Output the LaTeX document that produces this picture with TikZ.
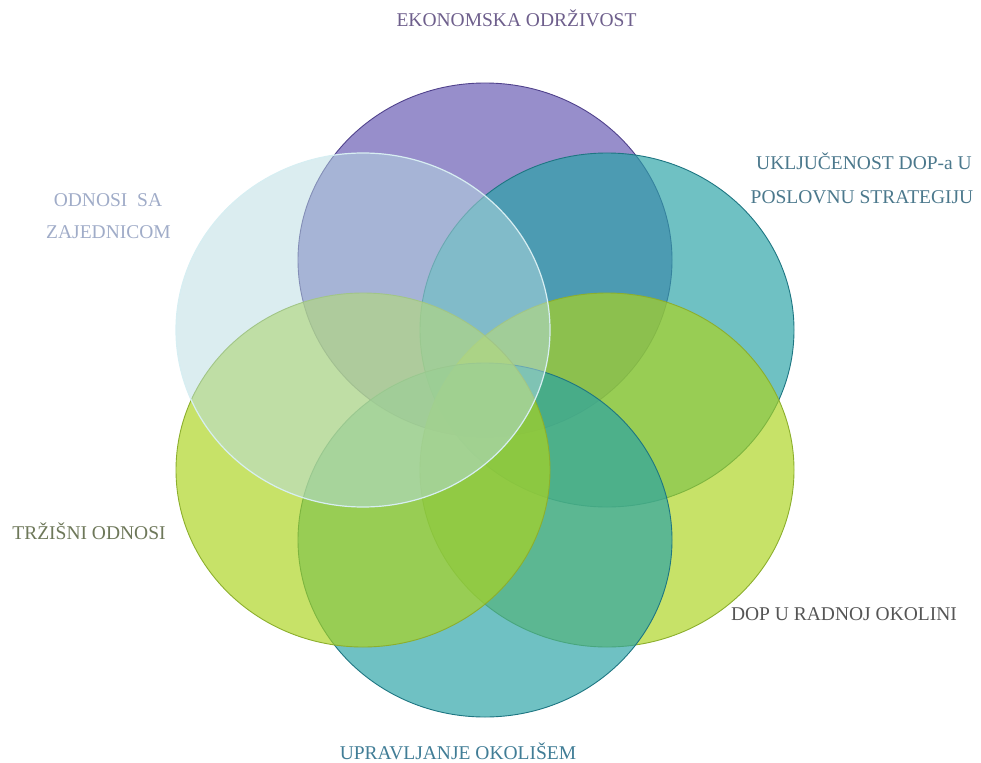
\documentclass[tikz,border=0pt]{standalone}
\usepackage{fontspec}
\setmainfont{Liberation Serif}
\definecolor{cpurple}{RGB}{100,86,178}
\definecolor{cpurpleD}{RGB}{80,66,140}
\definecolor{cteal}{RGB}{40,162,166}
\definecolor{ctealD}{RGB}{30,118,130}
\definecolor{cyg}{RGB}{172,212,30}
\definecolor{cygD}{RGB}{140,175,45}
\definecolor{clight}{RGB}{183,219,225}
\definecolor{clightD}{RGB}{215,238,242}
\definecolor{tpurple}{RGB}{110,95,140}
\definecolor{tteal}{RGB}{75,120,140}
\definecolor{tlight}{RGB}{160,172,200}
\definecolor{tolive}{RGB}{110,120,90}
\definecolor{tgrey}{RGB}{85,85,85}
\definecolor{tblue}{RGB}{65,125,150}
\begin{document}
\begin{tikzpicture}[x=1pt,y=-1pt,
  petal/.style={fill opacity=0.67, line width=0.9pt},
  lab/.style={anchor=base, inner sep=0pt, font=\fontsize{19.5}{23}\selectfont}]
\useasboundingbox (0,0) rectangle (981,762);
% petals
\draw[petal, fill=cpurple, draw=cpurpleD] (485,260) ellipse [x radius=187, y radius=177];
\draw[petal, fill=cteal, draw=ctealD] (607,330) ellipse [x radius=187, y radius=177];
\draw[petal, fill=cyg, draw=cygD] (607,470) ellipse [x radius=187, y radius=177];
\draw[petal, fill=cteal, draw=ctealD] (485,540) ellipse [x radius=187, y radius=177];
\draw[petal, fill=cyg, draw=cygD] (363,470) ellipse [x radius=187, y radius=177];
\draw[fill=clight, fill opacity=0.5, draw=clightD, line width=1.2pt] (363,330) ellipse [x radius=187, y radius=177];
% labels
\node[lab, text=tpurple] (l1) at (516.5,27) {EKONOMSKA ODRŽIVOST};
\node[lab, text=tteal] (l2a) at (864,170) {UKLJUČENOST DOP-a U};
\node[lab, text=tteal] (l2b) at (862,203) {POSLOVNU STRATEGIJU};
\node[lab, text=tgrey] (l3) at (844,620) {DOP U RADNOJ OKOLINI};
\node[lab, text=tblue] (l4) at (458,759) {UPRAVLJANJE OKOLIŠEM};
\node[lab, text=tolive] (l5) at (89,539) {TRŽIŠNI ODNOSI};
\node[lab, text=tlight] (l6a) at (108,206) {ODNOSI\ \ SA};
\node[lab, text=tlight] (l6b) at (108.5,238) {ZAJEDNICOM};
\end{tikzpicture}
\end{document}
